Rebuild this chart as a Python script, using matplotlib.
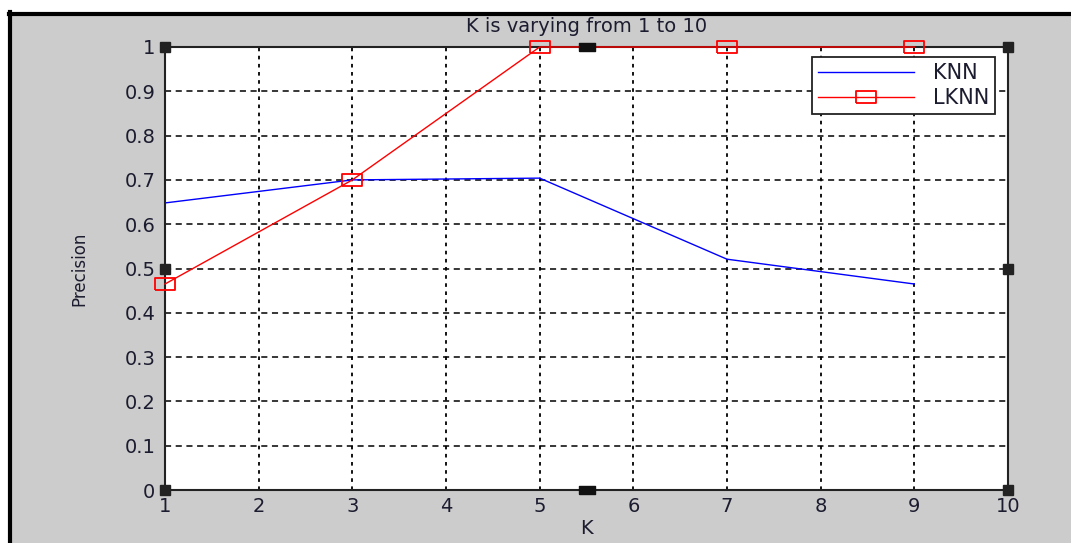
"""
Precision of KNN vs LKNN while K varies, MATLAB-figure look
"""
import matplotlib
matplotlib.use("Agg")
import matplotlib.pyplot as plt
from matplotlib.patches import Rectangle
from matplotlib.lines import Line2D

k_values = [1, 3, 5, 7, 9]
knn_precision = [0.648, 0.700, 0.704, 0.521, 0.465]
lknn_precision = [0.465, 0.700, 1.0, 1.0, 1.0]
x_ticks = list(range(1, 11))
y_ticks = [0, 0.1, 0.2, 0.3, 0.4, 0.5, 0.6, 0.7, 0.8, 0.9, 1]
y_tick_labels = ["0", "0.1", "0.2", "0.3", "0.4", "0.5", "0.6", "0.7", "0.8", "0.9", "1"]

plt.rcParams["font.family"] = ["DejaVu Sans"]
txt = "#1c1c30"

fig = plt.figure(figsize=(10.71, 5.43), dpi=100)
fig.patch.set_facecolor("white")

# gray figure area with dark border at top and left
fig.patches.append(Rectangle((10 / 1071, 0), 1, 1 - 14 / 543, transform=fig.transFigure,
                             facecolor="#cccccc", edgecolor="none", zorder=-10))
fig.lines.append(Line2D([9 / 1071, 1], [1 - 13.5 / 543] * 2, transform=fig.transFigure,
                        color="black", lw=3, zorder=-5))
fig.lines.append(Line2D([9.5 / 1071] * 2, [0, 1 - 12 / 543], transform=fig.transFigure,
                        color="black", lw=3, zorder=-5))

ax = fig.add_axes([165 / 1071, 1 - 490 / 543, 843 / 1071, 443 / 543])
ax.set_facecolor("white")

rect_marker = [(-1, -0.6), (1, -0.6), (1, 0.6), (-1, 0.6), (-1, -0.6)]

ax.plot(k_values, knn_precision, color="blue", lw=1.0, label="KNN")
ax.plot(k_values, lknn_precision, color="red", lw=1.0, marker=rect_marker,
        markersize=14, markerfacecolor="none", markeredgecolor="red",
        markeredgewidth=1.3, label="LKNN", clip_on=False, zorder=5)

ax.set_xlim(1, 10)
ax.set_ylim(0, 1)
ax.set_xticks(x_ticks)
ax.set_yticks(y_ticks)
ax.set_yticklabels(y_tick_labels)
ax.tick_params(axis="both", direction="in", length=0, labelsize=14, colors=txt, pad=7)
ax.tick_params(axis="x", pad=5)

ax.xaxis.grid(True, color="black", linestyle=(0, (2, 2.5)), lw=1.3)
ax.yaxis.grid(True, color="black", linestyle=(0, (4, 3)), lw=1.1)
ax.set_axisbelow(True)

for s in ax.spines.values():
    s.set_color("#222222")
    s.set_linewidth(1.5)

ax.set_title("K is varying from 1 to 10", fontsize=14, color=txt, pad=10.5)
ax.set_xlabel("K", fontsize=14, color=txt, labelpad=2)
ax.set_ylabel("Precision", fontsize=12, color=txt, labelpad=26)

# selection handles like MATLAB plot edit mode
for hx, hy in [(1, 0), (1, 1), (10, 0), (10, 1), (1, 0.5), (10, 0.5)]:
    ax.plot([hx], [hy], marker="s", markersize=7, color="#222222", clip_on=False, zorder=6)
for hx, hy in [(5.5, 0), (5.5, 1)]:
    ax.plot([hx], [hy], marker=[(-1, -0.45), (1, -0.45), (1, 0.45), (-1, 0.45), (-1, -0.45)],
            markersize=12, color="#111111", clip_on=False, zorder=6)

leg = ax.legend(loc="upper right", bbox_to_anchor=(0.985, 0.978), fontsize=15,
                fancybox=False, framealpha=1, edgecolor="#222222",
                handlelength=4.6, borderpad=0.3, labelspacing=0.25, handletextpad=0.9,
                borderaxespad=0)
leg.get_frame().set_linewidth(1.3)
for t in leg.get_texts():
    t.set_color(txt)

fig.savefig("out.png", dpi=100, facecolor=fig.get_facecolor())
